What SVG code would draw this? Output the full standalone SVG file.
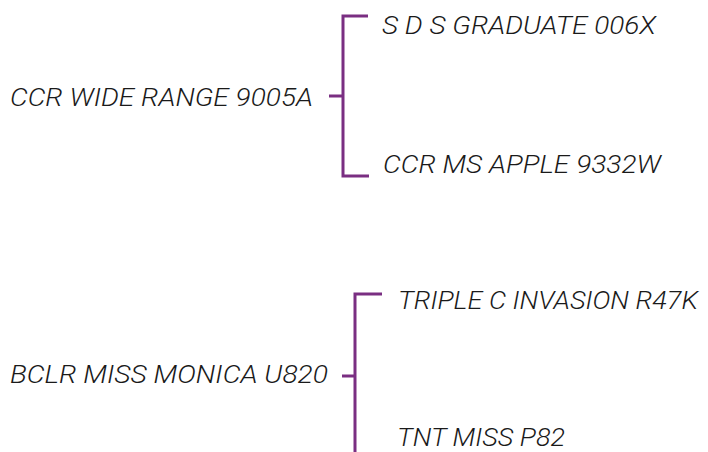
<svg xmlns="http://www.w3.org/2000/svg" width="708" height="452" viewBox="0 0 708 452">
<style>
.t{font-family:Roboto,"Liberation Sans",Arial,sans-serif;font-style:italic;font-weight:300;font-size:25px;fill:#1a1a1a}
.b{fill:none;stroke:#7a2e82;stroke-width:3}
</style>
<rect width="708" height="452" fill="#fff"/>
<g id="connectors">
<path class="b" d="M368,16 H343 V176 H369 M329,96 H343"/>
<path class="b" d="M382,294 H355 V452 M342,376 H355"/>
</g>
<g id="n1"><text class="t" x="10" y="106" textLength="303" lengthAdjust="spacingAndGlyphs">CCR WIDE RANGE 9005A</text></g>
<g id="n2"><text class="t" x="382" y="34" textLength="274" lengthAdjust="spacingAndGlyphs">S D S GRADUATE 006X</text></g>
<g id="n3"><text class="t" x="383" y="173" textLength="278" lengthAdjust="spacingAndGlyphs">CCR MS APPLE 9332W</text></g>
<g id="n4"><text class="t" x="10" y="383" textLength="318" lengthAdjust="spacingAndGlyphs">BCLR MISS MONICA U820</text></g>
<g id="n5"><text class="t" x="398" y="309" textLength="300" lengthAdjust="spacingAndGlyphs">TRIPLE C INVASION R47K</text></g>
<g id="n6"><text class="t" x="397" y="446" textLength="168" lengthAdjust="spacingAndGlyphs">TNT MISS P82</text></g>
</svg>
